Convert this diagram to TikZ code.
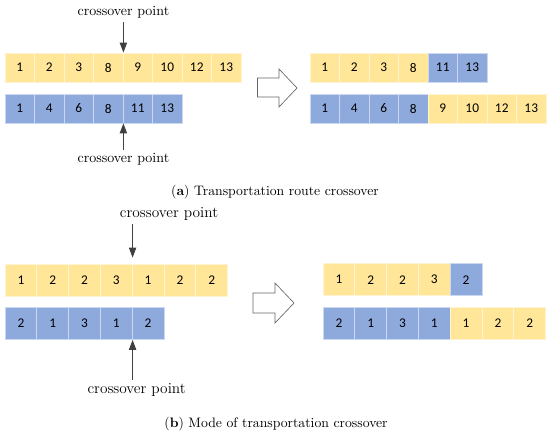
\documentclass[tikz,border=0pt]{standalone}
\usepackage{fontspec}
\newfontfamily\cellfont{Carlito}
\usetikzlibrary{arrows.meta,positioning}
\definecolor{celly}{HTML}{FFE699}
\definecolor{cellb}{HTML}{8EA9DB}
\tikzset{
	cell/.style={inner sep=0pt, fill=#1, draw=#1!45!white, line width=0.6pt,
		font=\cellfont\fontsize{10}{12}\selectfont},
	acell/.style={minimum width=22.1pt, minimum height=21.75pt},
	bcell/.style={minimum width=23.85pt, minimum height=24pt},
	cptext/.style={inner sep=2.5pt, font=\fontsize{10.5}{12}\selectfont},
	cptextb/.style={inner sep=2.5pt, font=\fontsize{11.5}{13}\selectfont},
	captext/.style={inner sep=0pt, font=\fontsize{10.3}{12}\selectfont},
	cparrow/.style={draw=black!75, line width=0.7pt, -{Triangle[length=7.5pt,width=5.5pt]}},
	blockarrow/.style={draw=black!60, fill=white, line width=0.5pt},
}

\begin{document}
\begin{tikzpicture}[x=0.75pt,y=-0.75pt]
	\useasboundingbox (0,0) rectangle (550,432);
	% (a) parents
	\foreach \v [count=\i] in {1,2,3,8,9,10,12,13}
		\node[cell=celly,acell] (ap\i) at ({5+29.5*(\i-0.5)},67.5) {\v};
	\foreach \v [count=\i] in {1,4,6,8,11,13}
		\node[cell=cellb,acell] (aq\i) at ({5+29.5*(\i-0.5)},108.5) {\v};
	% (a) offspring
	\foreach \v/\c [count=\i] in {1/celly,2/celly,3/celly,8/celly,11/cellb,13/cellb}
		\node[cell=\c,acell] (ar\i) at ({310+29.5*(\i-0.5)},67.5) {\v};
	\foreach \v/\c [count=\i] in {1/cellb,4/cellb,6/cellb,8/cellb,9/celly,10/celly,12/celly,13/celly}
		\node[cell=\c,acell] (as\i) at ({310+29.5*(\i-0.5)},108.5) {\v};
	% (a) crossover points
	\node[cptext, above=23pt of ap4.north east] (cpa1) {crossover point};
	\draw[cparrow] (cpa1) -- (ap4.north east);
	\node[cptext, below=20pt of aq4.south east] (cpa2) {crossover point};
	\draw[cparrow] (cpa2) -- (aq4.south east);
	\draw[blockarrow] (257.5,78) -- (279,78) -- (279,69) -- (297,88) -- (279,107) -- (279,97) -- (257.5,97) -- cycle;
	\node[captext] (capa) at (275,192) {(\textbf{a}) Transportation route crossover};

	% (b) parents
	\foreach \v [count=\i] in {1,2,2,3,1,2,2}
		\node[cell=celly,bcell] (bp\i) at ({5+31.8*(\i-0.5)},280) {\v};
	\foreach \v [count=\i] in {2,1,3,1,2}
		\node[cell=cellb,bcell] (bq\i) at ({5+31.8*(\i-0.5)},323.5) {\v};
	% (b) offspring
	\foreach \v/\c [count=\i] in {1/celly,2/celly,2/celly,3/celly,2/cellb}
		\node[cell=\c,bcell] (br\i) at ({323+31.8*(\i-0.5)},279.7) {\v};
	\foreach \v/\c [count=\i] in {2/cellb,1/cellb,3/cellb,1/cellb,1/celly,2/celly,2/celly}
		\node[cell=\c,bcell] (bs\i) at ({323+31.8*(\i-0.5)},323.3) {\v};
	% (b) crossover points
	\node[cptextb] (cpb1) at (169,214) {crossover point};
	\coordinate (cpb1tip) at ([yshift=4.5pt]bp4.north east);
	\draw[cparrow] (cpb1.south -| cpb1tip) -- (cpb1tip);
	\node[cptextb, below=30pt of bq4.south east, xshift=3pt] (cpb2) {crossover point};
	\draw[cparrow] (cpb2.north -| bq4.south east) -- (bq4.south east);
	\draw[blockarrow] (253,293) -- (275,293) -- (275,283) -- (294,303) -- (275,323) -- (275,313) -- (253,313) -- cycle;
	\node[captext] (capb) at (276,424) {(\textbf{b}) Mode of transportation crossover};
\end{tikzpicture}
\end{document}
